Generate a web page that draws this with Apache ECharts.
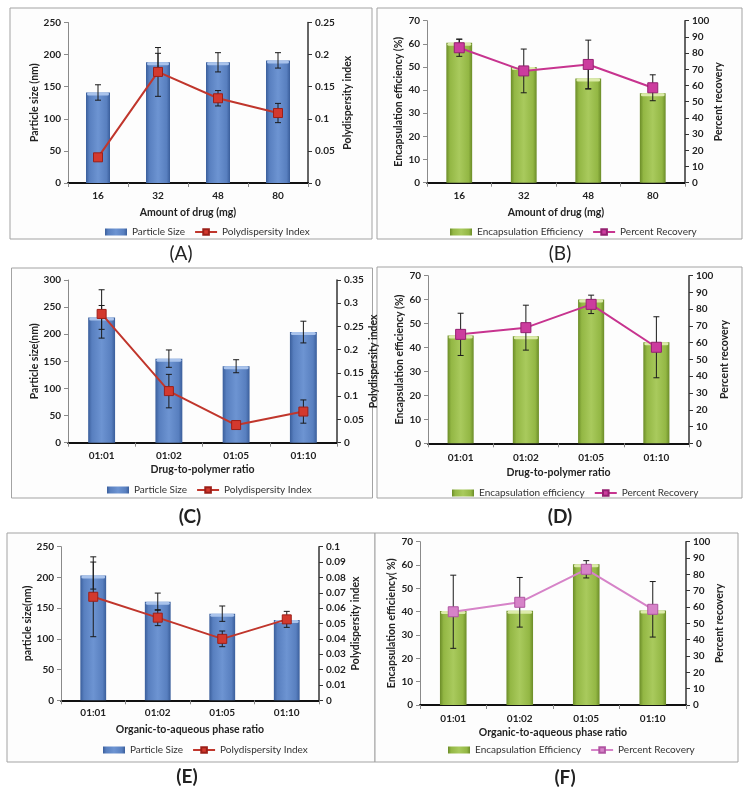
<!DOCTYPE html>
<html><head><meta charset="utf-8">
<script src="https://cdn.jsdelivr.net/npm/echarts@6/dist/echarts.min.js"></script>
<style>html,body{margin:0;padding:0;background:#fff}#c{width:750px;height:797px}</style>
</head><body><div id="c"></div>
<script>
// ---------- DATA ----------
const catsDrug = ['16', '32', '48', '80'];
const catsRatio = ['01:01', '01:02', '01:05', '01:10'];

// (A) particle size & PDI vs amount of drug
const sizeA = [141, 188, 188, 191];
const sizeErrA = [12, 14, 15, 12];
const pdiA = [0.040, 0.173, 0.132, 0.109];
const pdiErrA = [0, 0.038, 0.012, 0.015];

// (B) encapsulation efficiency & recovery vs amount of drug
const eeB = [60.5, 50, 45, 38.6];
const eeErrB = [1.5, 0, 4.5, 0];
const recB = [83.3, 69, 73, 58.6];
const recErrB = [5.3, 13.5, 15, 8];

// (C) particle size & PDI vs drug-to-polymer ratio
const sizeC = [231, 155, 141, 204];
const sizeErrC = [22, 16, 12, 20];
const pdiC = [0.277, 0.111, 0.038, 0.067];
const pdiErrC = [0.052, 0.036, 0, 0.025];

// (D) encapsulation efficiency & recovery vs drug-to-polymer ratio
const eeD = [45, 44.7, 60.1, 42.2];
const eeErrD = [0, 0, 0, 0];
const recD = [65, 69, 82.9, 57.3];
const recErrD = [12.6, 13.4, 5.5, 18.2];

// (E) particle size & PDI vs organic-to-aqueous phase ratio
const sizeE = [203, 160.5, 141, 130.7];
const sizeErrE = [22, 14, 12.5, 0];
const pdiE = [0.0674, 0.0538, 0.040, 0.0527];
const pdiErrE = [0.026, 0.0052, 0.0051, 0.0052];

// (F) encapsulation efficiency & recovery vs organic-to-aqueous phase ratio
const eeF = [40.3, 40.4, 60.3, 40.5];
const eeErrF = [0, 0, 0, 0];
const recF = [57.1, 62.9, 83.1, 58.6];
const recErrF = [22.4, 15.2, 5.3, 17];

// ---------- STYLE ----------
const FONT = 'Lato';
const grad = (edge, mid, hi) => new echarts.graphic.LinearGradient(0, 0, 1, 0, [
  {offset: 0, color: edge}, {offset: 0.14, color: mid}, {offset: 0.5, color: hi},
  {offset: 0.86, color: mid}, {offset: 1, color: edge}]);
const BLUE = () => grad('#3a5e9b', '#587fbf', '#6d94d2');
const GREEN = () => grad('#6b8c28', '#93b744', '#a9ca5d');

const option = {animation: false, grid: [], xAxis: [], yAxis: [], series: [], legend: [], graphic: []};

function axisText(sz, bold) {
  return {fontFamily: FONT, fontWeight: bold ? 'bold' : 'normal', fontSize: sz, color: '#222'};
}

function errSeries(xi, yi, vals, errs) {
  const data = [];
  vals.forEach((v, i) => { if (errs[i] > 0) data.push([i, v - errs[i], v + errs[i]]); });
  return {
    type: 'custom', xAxisIndex: xi, yAxisIndex: yi, z: 3, silent: true,
    encode: {x: 0, y: [1, 2]}, data,
    renderItem: (params, api) => {
      const x = api.value(0);
      const lo = api.coord([x, api.value(1)]);
      const hi = api.coord([x, api.value(2)]);
      const w = 3;
      const st = {stroke: '#1a1a1a', lineWidth: 1};
      return {type: 'group', children: [
        {type: 'line', shape: {x1: lo[0], y1: lo[1], x2: hi[0], y2: hi[1]}, style: st},
        {type: 'line', shape: {x1: lo[0] - w, y1: lo[1], x2: lo[0] + w, y2: lo[1]}, style: st},
        {type: 'line', shape: {x1: hi[0] - w, y1: hi[1], x2: hi[0] + w, y2: hi[1]}, style: st}
      ]};
    }
  };
}

function capSeries(xi, yi, vals, color) {
  return {
    type: 'custom', xAxisIndex: xi, yAxisIndex: yi, z: 2.5, silent: true,
    data: vals.map((v, i) => [i, v]),
    renderItem: (params, api) => {
      const p = api.coord([api.value(0), api.value(1)]);
      const bw = api.size([1, 0])[0] * 0.4;
      return {type: 'rect', shape: {x: p[0] - bw / 2 + 1, y: p[1], width: bw - 2, height: 3, r: 1.5},
        style: {fill: color}};
    }
  };
}

function addPanel(p) {
  const gi = option.grid.length;
  option.grid.push({left: p.g[0], top: p.g[1], width: p.g[2], height: p.g[3]});
  const xb = option.xAxis.length;
  option.xAxis.push({
    type: 'category', gridIndex: gi, data: p.cats, position: 'bottom',
    axisLine: {lineStyle: {color: '#8a8a8a', width: 1}},
    axisTick: {show: true, length: 4, lineStyle: {color: '#8a8a8a'}},
    axisLabel: Object.assign({margin: p.xm}, axisText(10, true)),
    name: p.xName, nameLocation: 'middle', nameGap: p.xGap, nameTextStyle: axisText(10.5, true)
  });
  option.xAxis.push({
    type: 'category', gridIndex: gi, data: p.cats, position: 'top',
    axisLine: {lineStyle: {color: '#111', width: 2}}, axisTick: {show: false}, axisLabel: {show: false}
  });
  const yl = option.yAxis.length;
  option.yAxis.push({
    type: 'value', gridIndex: gi, min: 0, max: p.lMax, interval: p.lInt, position: 'left',
    axisLine: {show: true, lineStyle: {color: '#8a8a8a'}},
    axisTick: {show: true, length: 4, lineStyle: {color: '#8a8a8a'}},
    splitLine: {show: false},
    axisLabel: Object.assign({margin: 7}, axisText(10, true)),
    name: p.lName, nameLocation: 'middle', nameRotate: 90, nameGap: p.lGap, nameTextStyle: axisText(10.5, true)
  });
  option.yAxis.push({
    type: 'value', gridIndex: gi, min: 0, max: p.rMax, interval: p.rInt, position: 'right',
    axisLine: {show: true, lineStyle: {color: '#333', width: 1.5}},
    axisTick: {show: true, length: 4, lineStyle: {color: '#333'}},
    splitLine: {show: false},
    axisLabel: Object.assign({margin: 7}, axisText(10, true)),
    name: p.rName, nameLocation: 'middle', nameRotate: 90, nameGap: p.rGap, nameTextStyle: axisText(10.5, true)
  });
  option.series.push({
    type: 'bar', name: p.barName, xAxisIndex: xb, yAxisIndex: yl, data: p.bar, barWidth: '40%', z: 2,
    itemStyle: {color: p.barColor}
  });
  option.series.push(capSeries(xb, yl, p.bar, p.capColor));
  option.series.push(errSeries(xb, yl, p.bar, p.barErr));
  option.series.push(errSeries(xb, yl + 1, p.line, p.lineErr));
  option.series.push({
    type: 'line', name: p.lineName, xAxisIndex: xb, yAxisIndex: yl + 1, data: p.line, z: 4,
    symbol: 'rect', symbolSize: p.sym, lineStyle: {color: p.lineColor, width: 2},
    itemStyle: {color: p.mkColor, borderColor: p.mkBorder, borderWidth: 1}
  });
  option.legend.push({
    left: p.lg[0], top: p.lg[1], itemWidth: 22, itemHeight: 7, itemGap: 9, selectedMode: false,
    textStyle: {fontFamily: FONT, fontSize: 10, color: '#333'},
    data: [
      {name: p.barName, icon: 'rect', itemStyle: {color: p.barColor}},
      {name: p.lineName, itemStyle: {color: p.mkColor, borderColor: p.mkBorder}, lineStyle: {color: p.lineColor, width: 2}}
    ]
  });
  option.graphic.push({
    type: 'rect', z: -1, shape: {x: p.box[0], y: p.box[1], width: p.box[2], height: p.box[3]},
    style: {fill: '#fdfdfd', stroke: '#a3a3a3', lineWidth: 1}
  });
  option.graphic.push({
    type: 'text', z: 10, x: p.lab[0], y: p.lab[1],
    style: {text: p.labText, fontFamily: FONT, fontSize: 19, fontWeight: p.labBold ? 'bold' : 'normal',
      fill: '#222', align: 'center', verticalAlign: 'middle'}
  });
}

const red = {lineColor: '#c0362c', mkColor: '#d3392e', mkBorder: '#9c1f18', sym: 9};
const mag = {lineColor: '#c7348f', mkColor: '#cc3c9e', mkBorder: '#942070', sym: 10};
const pink = {lineColor: '#d683c8', mkColor: '#d683c8', mkBorder: '#b055a2', sym: 10};

addPanel(Object.assign({
  g: [68, 22.5, 240, 160.5], cats: catsDrug, xm: 8, xName: 'Amount of drug (mg)', xGap: 24,
  lMax: 250, lInt: 50, lName: 'Particle size (nm)', lGap: 26,
  rMax: 0.25, rInt: 0.05, rName: 'Polydispersity index', rGap: 34,
  barName: 'Particle Size', bar: sizeA, barErr: sizeErrA, barColor: BLUE(), capColor: '#a9c3ec',
  lineName: 'Polydispersity Index', line: pdiA, lineErr: pdiErrA,
  lg: [100, 222], box: [10, 8, 362, 231], lab: [181, 254], labText: '(A)', labBold: false
}, red));

addPanel(Object.assign({
  g: [427, 20.7, 258, 162], cats: catsDrug, xm: 8, xName: 'Amount of drug (mg)', xGap: 24,
  lMax: 70, lInt: 10, lName: 'Encapsulation efficiency (%)', lGap: 22,
  rMax: 100, rInt: 10, rName: 'Percent recovery', rGap: 28,
  barName: 'Encapsulation Efficiency', bar: eeB, barErr: eeErrB, barColor: GREEN(), capColor: '#dcebaa',
  lineName: 'Percent Recovery', line: recB, lineErr: recErrB,
  lg: [445, 222], box: [377, 8, 365, 231], lab: [560, 254], labText: '(B)', labBold: false
}, mag));

addPanel(Object.assign({
  g: [68, 280, 269, 162.7], cats: catsRatio, xm: 8, xName: 'Drug-to-polymer ratio', xGap: 21,
  lMax: 300, lInt: 50, lName: 'Particle size(nm)', lGap: 26,
  rMax: 0.35, rInt: 0.05, rName: 'Polydispersity index', rGap: 28,
  barName: 'Particle Size', bar: sizeC, barErr: sizeErrC, barColor: BLUE(), capColor: '#a9c3ec',
  lineName: 'Polydispersity Index', line: pdiC, lineErr: pdiErrC,
  lg: [102, 480], box: [11.5, 268, 361, 230], lab: [190, 517], labText: '(C)', labBold: true
}, red));

addPanel(Object.assign({
  g: [428, 275.7, 261, 167.6], cats: catsRatio, xm: 9, xName: 'Drug-to-polymer ratio', xGap: 24,
  lMax: 70, lInt: 10, lName: 'Encapsulation efficiency (%)', lGap: 21,
  rMax: 100, rInt: 10, rName: 'Percent recovery', rGap: 30,
  barName: 'Encapsulation efficiency', bar: eeD, barErr: eeErrD, barColor: GREEN(), capColor: '#dcebaa',
  lineName: 'Percent Recovery', line: recD, lineErr: recErrD,
  lg: [447, 483], box: [377, 267, 365, 231], lab: [560, 517], labText: '(D)', labBold: true
}, mag));

addPanel(Object.assign({
  g: [61, 546.7, 258, 153.6], cats: catsRatio, xm: 7, xName: 'Organic-to-aqueous phase ratio', xGap: 24,
  lMax: 250, lInt: 50, lName: 'particle size(nm)', lGap: 28,
  rMax: 0.1, rInt: 0.01, rName: 'Polydispersity index', rGap: 23,
  barName: 'Particle Size', bar: sizeE, barErr: sizeErrE, barColor: BLUE(), capColor: '#a9c3ec',
  lineName: 'Polydispersity Index', line: pdiE, lineErr: pdiErrE,
  lg: [98, 740], box: [7, 533, 368, 229], lab: [187, 777], labText: '(E)', labBold: true
}, red));

addPanel(Object.assign({
  g: [420, 541.7, 266, 163.3], cats: catsRatio, xm: 9, xName: 'Organic-to-aqueous phase ratio', xGap: 22,
  lMax: 70, lInt: 10, lName: 'Encapsulation efficiency( %)', lGap: 22,
  rMax: 100, rInt: 10, rName: 'Percent recovery', rGap: 27,
  barName: 'Encapsulation Efficiency', bar: eeF, barErr: eeErrF, barColor: GREEN(), capColor: '#dcebaa',
  lineName: 'Percent Recovery ', line: recF, lineErr: recErrF,
  lg: [443, 740], box: [375, 533, 363, 229], lab: [565, 778], labText: '(F)', labBold: true
}, pink));

const chart = echarts.init(document.getElementById('c'), null, {renderer: 'canvas'});
chart.setOption(option);
</script>
</body></html>
